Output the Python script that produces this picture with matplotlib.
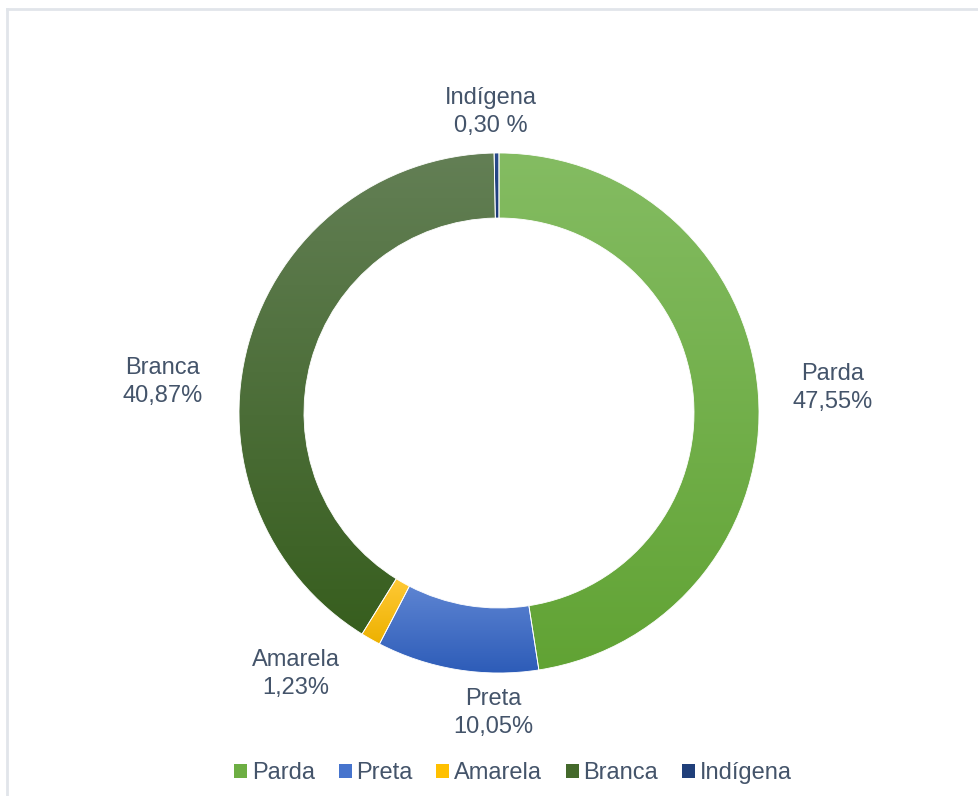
import numpy as np
import matplotlib
matplotlib.use("Agg")
from matplotlib import pyplot as plt
from matplotlib.colors import LinearSegmentedColormap
from matplotlib.patches import Patch
from matplotlib.lines import Line2D

# Distribuição por cor/raça (%)
categorias = ["Parda", "Preta", "Amarela", "Branca", "Indígena"]
valores = [47.55, 10.05, 1.23, 40.87, 0.30]
rotulos = ["47,55%", "10,05%", "1,23%", "40,87%", "0,30 %"]

# Cores em degradê (topo, base) e cor sólida da legenda
cores_topo = ["#84BC62", "#5D84D2", "#FFC936", "#637F55", "#2A4C8C"]
cores_base = ["#61A334", "#2D5CB8", "#EDB100", "#375E1E", "#1C3A78"]
cores_legenda = ["#6DAE43", "#4674CD", "#FFC000", "#44692B", "#203F7A"]

cor_texto = "#44546A"
plt.rcParams["font.family"] = ["Liberation Sans", "DejaVu Sans"]

W, H = 979, 796
fig = plt.figure(figsize=(W / 100, H / 100), dpi=100)
ax = fig.add_axes([0, 0, 1, 1])

centro = (499, H - 413)
raio = 260

wedges, _ = ax.pie(valores, startangle=90, counterclock=False, center=centro,
                   radius=raio, wedgeprops=dict(width=65, edgecolor="white", linewidth=0.6),
                   frame=True)
ax.set_xlim(0, W)
ax.set_ylim(0, H)
ax.set_aspect("equal")
ax.axis("off")

# Preenche cada fatia com um degradê vertical
grad = np.linspace(0, 1, 256).reshape(-1, 1)
for w, c0, c1 in zip(wedges, cores_topo, cores_base):
    ext = w.get_path().get_extents()
    cmap = LinearSegmentedColormap.from_list("g", [c1, c0])
    w.set_facecolor("none")
    w.set_zorder(1.6)
    img = ax.imshow(grad, cmap=cmap, origin="lower", aspect="auto",
                    extent=(ext.x0, ext.x1, ext.y0, ext.y1), zorder=1.5)
    img.set_clip_path(w)
ax.set_xlim(0, W)
ax.set_ylim(0, H)

# Rótulos de dados (deslocamento em relação ao centro)
desloc = [(334, 25), (-6, -300), (-203, -261), (-336, 31), (-8, 301)]
for nome, rot, (dx, dy) in zip(categorias, rotulos, desloc):
    ax.text(centro[0] + dx, centro[1] + dy, f"{nome}\n{rot}", ha="center", va="center",
            fontsize=17, color=cor_texto, linespacing=1.3, zorder=3)

# Legenda
handles = [Patch(facecolor=c, edgecolor="none") for c in cores_legenda]
ax.legend(handles, categorias, loc="center", bbox_to_anchor=(513, H - 773),
          bbox_transform=ax.transData, ncol=5, frameon=False, fontsize=17,
          labelcolor=cor_texto, handlelength=0.55, handleheight=0.55,
          handletextpad=0.2, columnspacing=1.0)

# Moldura (apenas topo e esquerda visíveis)
ax.add_line(Line2D([7, W], [H - 9, H - 9], color="#E1E5EA", linewidth=2))
ax.add_line(Line2D([7, 7], [0, H - 9], color="#E1E5EA", linewidth=2))

fig.savefig("out.png", dpi=100)
